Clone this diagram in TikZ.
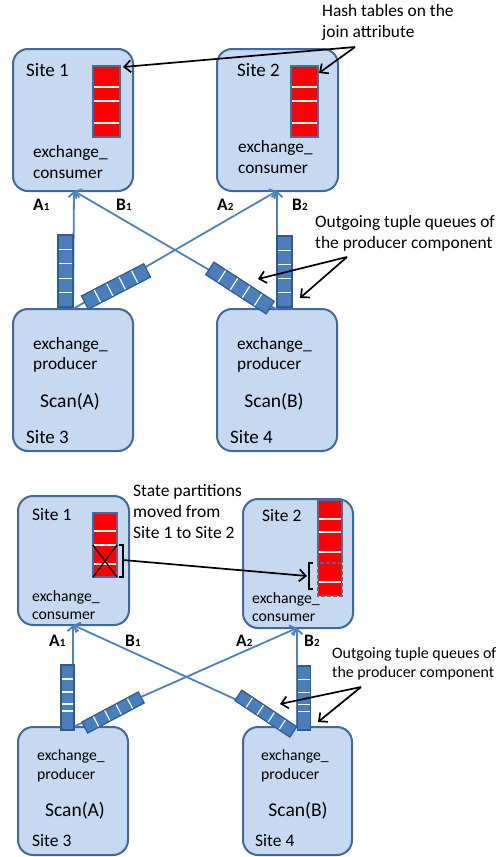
\documentclass[tikz,border=0pt]{standalone}
\usepackage{fontspec}
\setmainfont{Carlito}
\usetikzlibrary{arrows.meta,calc}
\definecolor{sitefill}{HTML}{C6D9F1}
\definecolor{siteborder}{HTML}{41699A}
\definecolor{flowblue}{HTML}{4F81BD}
\definecolor{queuefill}{HTML}{4A7EBB}
\definecolor{queueborder}{HTML}{2F5B8E}
\definecolor{tableborder}{HTML}{4D6A96}
\newcommand{\sub}[1]{{\fontsize{11}{13}\selectfont #1}}
\begin{document}
\begin{tikzpicture}[x=1pt,y=-1pt,
  site/.style={draw=siteborder, fill=sitefill, line width=2pt, rounded corners=15pt, anchor=north west, outer sep=0pt, inner sep=0pt},
  htable/.style={draw=tableborder, fill=red, line width=1.8pt, anchor=north west, outer sep=0pt, inner sep=0pt},
  tsep/.style={white, line width=1.5pt},
  queue/.style={draw=queueborder, fill=queuefill, line width=1.2pt, outer sep=0pt, inner sep=0pt},
  qsep/.style={white, line width=1.1pt, shorten <=0.7pt, shorten >=0.7pt},
  flow/.style={draw=flowblue, line width=1.8pt, -{Straight Barb[length=5pt,width=11pt]}},
  note/.style={draw=black, line width=1.7pt, -{Straight Barb[length=6.5pt,width=12pt]}},
  brk/.style={draw=black, line width=1.5pt},
  lbl/.style={inner sep=0pt, anchor=west, align=left},
  sitebig/.style={lbl, font=\fontsize{19}{23}\selectfont},
  sitesmall/.style={lbl, font=\fontsize{17.5}{21}\selectfont},
  compbig/.style={lbl, font=\fontsize{17.3}{20.5}\selectfont},
  compsmall/.style={lbl, font=\fontsize{15.7}{18.5}\selectfont},
  scan/.style={inner sep=0pt, font=\fontsize{19.5}{23}\selectfont},
  notebig/.style={lbl, font=\fontsize{17.4}{21}\selectfont},
  notesmall/.style={lbl, font=\fontsize{15.9}{18.5}\selectfont},
  ab/.style={inner sep=0pt, anchor=west, font=\bfseries\fontsize{17.5}{20}\selectfont}
]
\useasboundingbox (0,0) rectangle (497,857);

% ================= TOP HALF =================
\node[site, minimum width=120pt, minimum height=142pt] (s1t) at (13,49) {};
\node[site, minimum width=121pt, minimum height=142pt] (s2t) at (217,49) {};
\node[site, minimum width=120pt, minimum height=142pt] (s3t) at (13,309) {};
\node[site, minimum width=120pt, minimum height=142pt] (s4t) at (217,309) {};

% hash tables
\node[htable, minimum width=27pt, minimum height=71pt] (h1t) at (93,66) {};
\node[htable, minimum width=27pt, minimum height=71pt] (h2t) at (291,66) {};
\foreach \yy in {87,101,123} {
  \draw[tsep] ([xshift=0.9pt]h1t.west |- 0,\yy) -- ([xshift=-0.9pt]h1t.east |- 0,\yy);
  \draw[tsep] ([xshift=0.9pt]h2t.west |- 0,\yy) -- ([xshift=-0.9pt]h2t.east |- 0,\yy);
}

% texts in sites
\node[sitebig] (l1t) at (26,70) {Site 1};
\node[sitebig] (l2t) at (237,70) {Site 2};
\node[compbig] (c1t) at (33,162) {exchange\_\\consumer};
\node[compbig] (c2t) at (238,157) {exchange\_\\consumer};
\node[compbig] (p3t) at (33,355) {exchange\_\\producer};
\node[compbig] (p4t) at (237,355) {exchange\_\\producer};
\node[scan] (sa) at (70,402) {Scan(A)};
\node[scan] (sb) at (274,402) {Scan(B)};
\node[sitebig] (l3t) at (26,437) {Site 3};
\node[sitebig] (l4t) at (230,437) {Site 4};

% flows
\draw[flow] (s3t.north -| 73,0) -- (s1t.south -| 74,0);
\draw[flow] (s4t.north -| 276,0) -- (s1t.south -| 74,0);
\draw[flow] (s3t.north -| 73,0) -- (s2t.south -| 277,0);
\draw[flow] (s4t.north -| 277,0) -- (s2t.south -| 277,0);

% flow labels
\node[ab] (a1t) at (33,205) {A\sub{1}};
\node[ab] (b1t) at (116,205) {B\sub{1}};
\node[ab] (a2t) at (217,205) {A\sub{2}};
\node[ab] (b2t) at (292,205) {B\sub{2}};

% queues
\node[queue, minimum width=72pt, minimum height=15pt, rotate=90] (q3vt) at (65.5,271) {};
\node[queue, minimum width=70pt, minimum height=15pt, rotate=27.3] (q3dt) at (116,286.5) {};
\node[queue, minimum width=72pt, minimum height=15pt, rotate=-33] (q4dt) at (240,288) {};
\node[queue, minimum width=71pt, minimum height=15pt, rotate=90] (q4vt) at (284.5,271.5) {};
\foreach \q in {q3vt,q3dt,q4dt,q4vt} {
  \foreach \f in {0.2,0.4,0.6,0.8} {
    \draw[qsep] ($(\q.south west)!\f!(\q.south east)$) -- ($(\q.north west)!\f!(\q.north east)$);
  }
}

% annotations
\node[notebig] (hashtxt) at (322,22.5) {Hash tables on the\\join attribute};
\coordinate (hashpt) at (355,47);
\draw[note] (hashpt) -- ($(h1t.north east)+(3,1)$);
\draw[note] (hashpt) -- ($(h2t.north east)+(1,7)$);

\node[notebig] (qtxt) at (315,233.5) {Outgoing tuple queues of\\the producer component};
\coordinate (qpt) at (347,257);
\coordinate (qa) at (258,279);
\coordinate (qb) at (300,298);
\draw[note] (qpt) -- (qa);
\draw[note] (qpt) -- (qb);

% ================= BOTTOM HALF =================
\node[site, minimum width=111pt, minimum height=129pt] (s1b) at (18,496) {};
\node[site, minimum width=110pt, minimum height=129pt] (s2b) at (243,499) {};
\node[site, minimum width=110pt, minimum height=128pt] (s3b) at (18,727) {};
\node[site, minimum width=109pt, minimum height=128pt] (s4b) at (243,727) {};

% state table site 1
\node[htable, minimum width=24pt, minimum height=64pt] (h1b) at (93,513) {};
\foreach \yy in {531,545,564} {
  \draw[tsep] ([xshift=0.9pt]h1b.west |- 0,\yy) -- ([xshift=-0.9pt]h1b.east |- 0,\yy);
}
\draw[black, line width=1.3pt] (h1b.west |- 0,545) -- (h1b.south east);
\draw[black, line width=1.3pt] (h1b.east |- 0,545) -- (h1b.south west);
\draw[brk] (119,545) -- (123,545) -- (123,577) -- (119,577);

% state table site 2
\node[fill=red, draw=none, anchor=north west, inner sep=0pt, outer sep=0pt, minimum width=24pt, minimum height=96pt] (h2b) at (318,500) {};
\foreach \yy in {519,532,552,582} {
  \draw[tsep] ([xshift=0.9pt]h2b.west |- 0,\yy) -- ([xshift=-0.9pt]h2b.east |- 0,\yy);
}
\draw[draw=tableborder, line width=1.8pt] (h2b.west |- 0,563) -- (h2b.north west) -- (h2b.north east) -- (h2b.east |- 0,563);
\draw[draw=tableborder, line width=1.8pt, dash pattern=on 4pt off 2pt] (h2b.west |- 0,563) rectangle (h2b.south east);
\draw[brk] (312.5,563) -- (309,563) -- (309,589) -- (312.5,589);

% move arrow
\coordinate (mvfrom) at (123,560);
\coordinate (mvto) at (307,576);
\draw[note] (mvfrom) -- (mvto);

% texts
\node[sitesmall] (l1b) at (32,515) {Site 1};
\node[sitesmall] (l2b) at (262,516) {Site 2};
\node[notebig, font=\fontsize{17.5}{21}\selectfont] (statetxt) at (133,512) {State partitions\\moved from\\Site 1 to Site 2};
\node[compsmall] (c1b) at (32,605) {exchange\_\\consumer};
\node[compsmall] (c2b) at (252,607) {exchange\_\\consumer};
\node[compsmall] (p3b) at (37,766) {exchange\_\\producer};
\node[compsmall] (p4b) at (261,766) {exchange\_\\producer};
\node[scan] (sab) at (75,811) {Scan(A)};
\node[scan] (sbb) at (298,811) {Scan(B)};
\node[sitesmall] (l3b) at (32,841) {Site 3};
\node[sitesmall] (l4b) at (255,841) {Site 4};

% flows
\draw[flow] (s3b.north -| 73,0) -- (s1b.south -| 73,0);
\draw[flow] (s4b.north -| 296,0) -- (s1b.south -| 73,0);
\draw[flow] (s3b.north -| 73,0) -- (s2b.south -| 297,0);
\draw[flow] (s4b.north -| 297,0) -- (s2b.south -| 297,0);

\node[ab] (a1b) at (49,641) {A\sub{1}};
\node[ab] (b1b) at (125,641) {B\sub{1}};
\node[ab] (a2b) at (236,641) {A\sub{2}};
\node[ab] (b2b) at (304,641) {B\sub{2}};

% queues
\node[queue, minimum width=65pt, minimum height=13pt, rotate=90] (q3vb) at (67.5,697.5) {};
\node[queue, minimum width=64pt, minimum height=12.5pt, rotate=28] (q3db) at (113,712.5) {};
\node[queue, minimum width=66pt, minimum height=12.5pt, rotate=-33.6] (q4db) at (265.8,713.6) {};
\node[queue, minimum width=64pt, minimum height=13.4pt, rotate=90] (q4vb) at (304,698) {};
\foreach \q in {q3vb,q4vb} {
  \foreach \f in {0.292,0.4,0.585,0.785} {
    \draw[qsep] ($(\q.south west)!\f!(\q.south east)$) -- ($(\q.north west)!\f!(\q.north east)$);
  }
}
\foreach \q in {q3db,q4db} {
  \foreach \f in {0.2,0.4,0.6,0.8} {
    \draw[qsep] ($(\q.south west)!\f!(\q.south east)$) -- ($(\q.north west)!\f!(\q.north east)$);
  }
}

\node[notesmall] (qtxtb) at (332,664) {Outgoing tuple queues of\\the producer component};
\coordinate (qptb) at (361,687);
\coordinate (qab) at (280,704);
\coordinate (qbb) at (318,722);
\draw[note] (qptb) -- (qab);
\draw[note] (qptb) -- (qbb);
\end{tikzpicture}
\end{document}
